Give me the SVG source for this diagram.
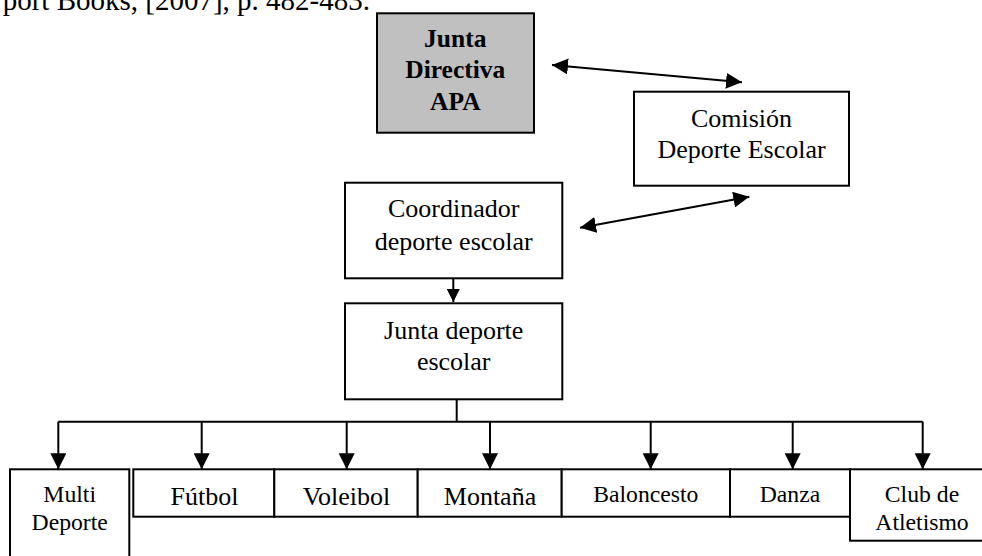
<svg xmlns="http://www.w3.org/2000/svg" width="982" height="556" viewBox="0 0 982 556">
<style>
text{font-family:"Liberation Serif","Times New Roman",serif;fill:#000;text-anchor:middle}
.box{fill:#fff;stroke:#000;stroke-width:2}
.gray{fill:#c0c0c0;stroke:#000;stroke-width:2}
.ln{fill:none;stroke:#000;stroke-width:2}
.f26{font-size:26px}
.f24{font-size:23.7px}
.b{font-weight:bold;font-size:25.5px}
</style>
<defs>
<marker id="ah" markerUnits="userSpaceOnUse" markerWidth="17" markerHeight="16" refX="16" refY="8" orient="auto-start-reverse">
<path d="M0,0 L16,8 L0,16 z" fill="#000"/>
</marker>
<marker id="ahs" markerUnits="userSpaceOnUse" markerWidth="14" markerHeight="13" refX="13" refY="6.5" orient="auto">
<path d="M0,0 L13,6.5 L0,13 z" fill="#000"/>
</marker>
</defs>
<text x="370" y="9.5" style="font-size:29px;text-anchor:end">port Books, [2007], p. 482-483.</text>
<g id="connectors">
<line class="ln" x1="552" y1="65" x2="742" y2="82.3" marker-start="url(#ah)" marker-end="url(#ah)"/>
<line class="ln" x1="580" y1="227.7" x2="749.3" y2="196.7" marker-start="url(#ah)" marker-end="url(#ah)"/>
<line class="ln" x1="453.3" y1="278.3" x2="453.3" y2="302" marker-end="url(#ahs)"/>
<polyline class="ln" points="456.7,399.3 456.7,421.7"/>
<line class="ln" x1="58.3" y1="421.7" x2="922.7" y2="421.7"/>
<line class="ln" x1="58.3" y1="421.7" x2="58.3" y2="469.3" marker-end="url(#ah)"/>
<line class="ln" x1="201.7" y1="421.7" x2="201.7" y2="469.3" marker-end="url(#ah)"/>
<line class="ln" x1="346.7" y1="421.7" x2="346.7" y2="469.3" marker-end="url(#ah)"/>
<line class="ln" x1="490" y1="421.7" x2="490" y2="469.3" marker-end="url(#ah)"/>
<line class="ln" x1="650.7" y1="421.7" x2="650.7" y2="469.3" marker-end="url(#ah)"/>
<line class="ln" x1="792.7" y1="421.7" x2="792.7" y2="469.3" marker-end="url(#ah)"/>
<line class="ln" x1="922.7" y1="421.7" x2="922.7" y2="469.3" marker-end="url(#ah)"/>
</g>
<g id="junta-directiva">
<rect class="gray" x="377" y="13.3" width="157" height="119.4"/>
<text class="b" x="455.3" y="46.7">Junta</text>
<text class="b" x="455.3" y="78.3">Directiva</text>
<text class="b" x="455.3" y="110">APA</text>
</g>
<g id="comision">
<rect class="box" x="634" y="91.7" width="215" height="94"/>
<text class="f26" x="741.5" y="126.7">Comisión</text>
<text class="f26" x="741.5" y="157.7">Deporte Escolar</text>
</g>
<g id="coordinador">
<rect class="box" x="345" y="182.7" width="217.3" height="95.6"/>
<text class="f26" x="453.7" y="217">Coordinador</text>
<text class="f26" x="453.7" y="250">deporte escolar</text>
</g>
<g id="junta-deporte">
<rect class="box" x="345" y="303.3" width="217.3" height="96"/>
<text class="f26" x="453.7" y="339">Junta deporte</text>
<text class="f26" x="453.7" y="370">escolar</text>
</g>
<g id="multi">
<rect class="box" x="10" y="469.3" width="119.3" height="100"/>
<text class="f24" x="69.7" y="501.7">Multi</text>
<text class="f24" x="69.7" y="530">Deporte</text>
</g>
<g id="futbol">
<rect class="box" x="133.3" y="469.3" width="141" height="47.4"/>
<text class="f26" x="204.5" y="505">Fútbol</text>
</g>
<g id="voleibol">
<rect class="box" x="274.3" y="469.3" width="143.4" height="47.4"/>
<text class="f26" x="346.5" y="505">Voleibol</text>
</g>
<g id="montana">
<rect class="box" x="417.7" y="469.3" width="144" height="47.4"/>
<text class="f26" x="490" y="505">Montaña</text>
</g>
<g id="baloncesto">
<rect class="box" x="561.7" y="469.3" width="168.3" height="47.4"/>
<text class="f24" x="645.8" y="501.7">Baloncesto</text>
</g>
<g id="danza">
<rect class="box" x="730" y="469.3" width="120" height="47.4"/>
<text class="f24" x="790" y="501.7">Danza</text>
</g>
<g id="club">
<rect class="box" x="850" y="469.3" width="145" height="71.4"/>
<text class="f24" x="922" y="501.7">Club de</text>
<text class="f24" x="922" y="530">Atletismo</text>
</g>
</svg>
